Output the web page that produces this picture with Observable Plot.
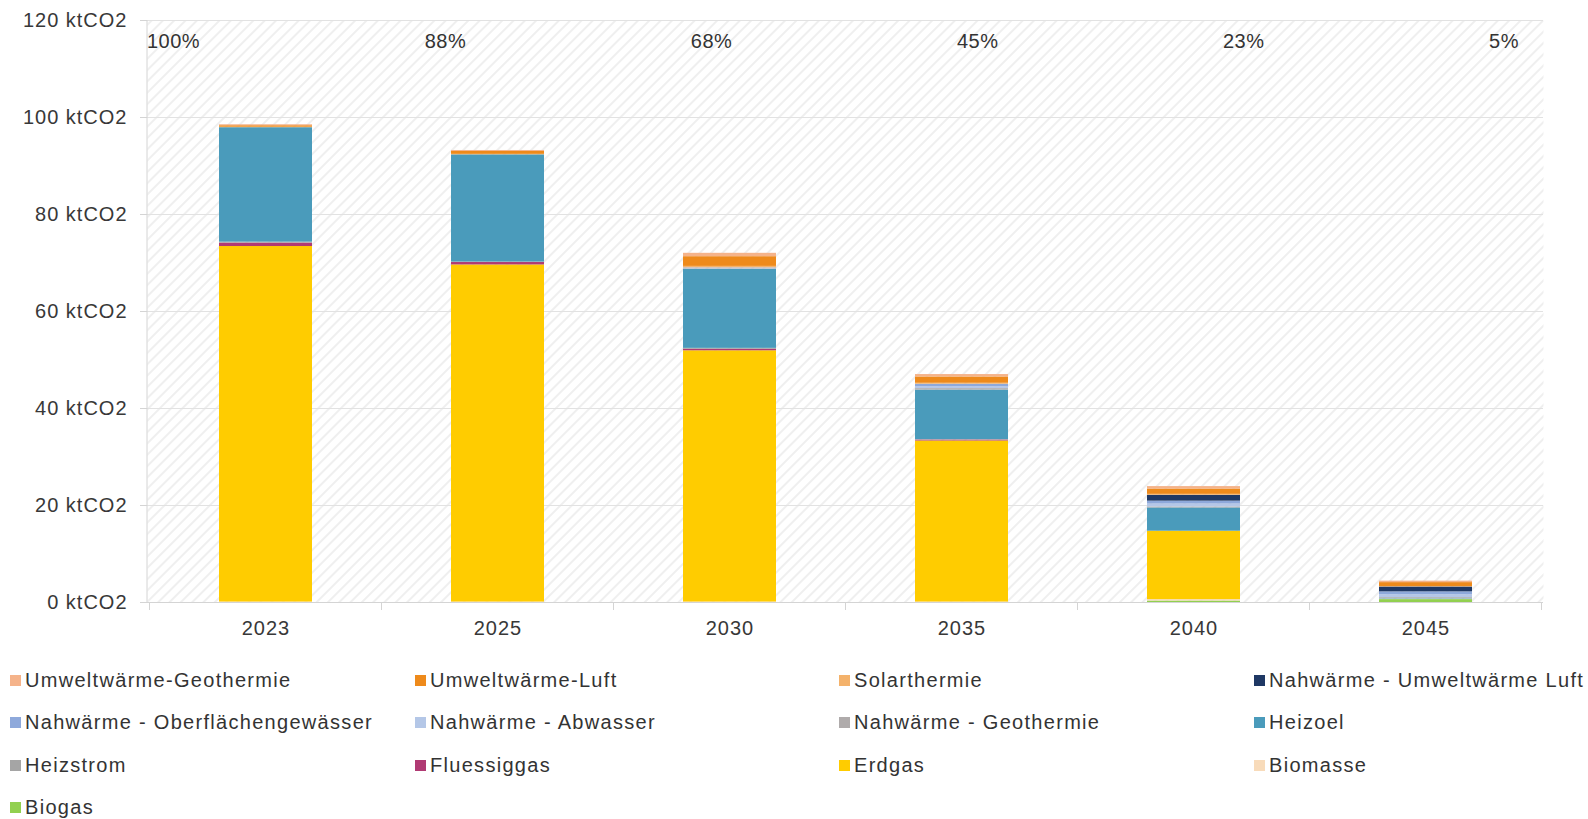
<!DOCTYPE html>
<html><head><meta charset="utf-8">
<script src="https://cdn.jsdelivr.net/npm/d3@7"></script>
<script src="https://cdn.jsdelivr.net/npm/@observablehq/plot@0.6"></script>
<style>
body{margin:0;background:#fff;font-family:"Liberation Sans",Arial,sans-serif;}
#wrap{position:relative;width:1588px;}
#pct{position:absolute;left:147px;width:1372px;top:31px;display:flex;justify-content:space-between;font-size:20px;color:#333;line-height:20px;letter-spacing:0.5px;}
#legend{position:relative;height:169px;}
.item{position:absolute;display:flex;align-items:center;height:20px;font-size:20px;color:#333;white-space:nowrap;line-height:20px;letter-spacing:1.3px;}
.sw{width:11px;height:11px;margin-right:4px;flex:none;}
</style></head><body>
<div id="wrap"><div id="chart"></div><div id="pct"></div><div id="legend"></div></div>
<script>
const years = ["2023","2025","2030","2035","2040","2045"];
const shareLabels = ["100%","88%","68%","45%","23%","5%"];
const yTicks = [0,20,40,60,80,100,120];
// stack order bottom -> top
const seriesNames = ["Biogas","Biomasse","Erdgas","Fluessiggas","Heizstrom","Heizoel","Nahwärme - Geothermie","Nahwärme - Abwasser","Nahwärme - Oberflächengewässer","Nahwärme - Umweltwärme Luft","Solarthermie","Umweltwärme-Luft","Umweltwärme-Geothermie"];
const seriesColors = ["#92D050","#F8DBBA","#FFCC00","#B03A73","#A5A5A5","#4A9BBB","#AFABAB","#B4C7E7","#8EA9DB","#1F3864","#F4B26B","#EE8A1B","#F5B38A"];
const biogas        = [0, 0, 0, 0, 0.3, 0.6];
const biomasse      = [0.1, 0.1, 0.1, 0.1, 0.3, 0.1];
const erdgas        = [73.3, 69.5, 51.8, 33.2, 14.1, 0];
const fluessiggas   = [0.7, 0.5, 0.3, 0.2, 0, 0];
const heizstrom     = [0.2, 0.1, 0.2, 0.1, 0, 0];
const heizoel       = [23.6, 22.1, 16.3, 10.2, 4.8, 0.1];
const nwGeothermie  = [0, 0, 0.1, 0.3, 0.2, 0.2];
const nwAbwasser    = [0, 0, 0.1, 0.4, 0.6, 0.6];
const nwOberflaeche = [0, 0, 0.1, 0.5, 0.6, 0.6];
const nwUmweltLuft  = [0, 0, 0, 0, 1.2, 1.0];
const solarthermie  = [0.1, 0.1, 0.3, 0.2, 0.2, 0.1];
const umweltLuft    = [0.3, 0.6, 2.0, 1.3, 1.1, 0.8];
const umweltGeo     = [0.2, 0.2, 0.7, 0.5, 0.5, 0.3];
const seriesValues = [biogas, biomasse, erdgas, fluessiggas, heizstrom, heizoel, nwGeothermie, nwAbwasser, nwOberflaeche, nwUmweltLuft, solarthermie, umweltLuft, umweltGeo];

const data = [];
seriesNames.forEach((s, i) => years.forEach((y, j) => data.push({year: y, series: s, value: seriesValues[i][j]})));

const font = '"Liberation Sans", Arial, sans-serif';
const plot = Plot.plot({
  width: 1588, height: 650,
  marginTop: 20, marginBottom: 48, marginLeft: 147, marginRight: 45,
  style: {fontFamily: font, fontSize: "20px", color: "#383838", background: "transparent", letterSpacing: "1px"},
  x: {domain: years, paddingInner: 0.6, paddingOuter: 0.3, label: null},
  y: {domain: [0, 120], label: null},
  color: {domain: seriesNames, range: seriesColors},
  marks: [
    Plot.frame({fill: "url(#hatch)", stroke: null}),
    Plot.gridY(yTicks, {stroke: "#e2e2e2", strokeOpacity: 1}),
    Plot.barY(data, {x: "year", y: "value", fill: "series", order: seriesNames}),
    Plot.ruleY([0], {stroke: "#d4d4d4"}),
    Plot.axisY(yTicks, {tickSize: 7, tickPadding: 13, stroke: "#d4d4d4", tickFormat: d => `${d} ktCO2`, fontSize: 20, label: null}),
    Plot.axisX({tickSize: 0, tickPadding: 18, fontSize: 20, label: null})
  ]
});

const svg = d3.select(plot);
const defs = svg.insert("defs", ":first-child");
const pat = defs.append("pattern").attr("id", "hatch").attr("patternUnits", "userSpaceOnUse")
  .attr("width", 8).attr("height", 8).attr("patternTransform", "rotate(45)");
pat.append("rect").attr("width", 8).attr("height", 8).attr("fill", "#ffffff");
pat.append("line").attr("x1", 1).attr("y1", 0).attr("x2", 1).attr("y2", 8).attr("stroke", "#ececec").attr("stroke-width", 1.6);

const xs = plot.scale("x"), ys = plot.scale("y");
const bw = xs.bandwidth;
const step = xs.step ?? ((xs.range[1] - xs.range[0]) / years.length);
const gap = (step - bw) / 2;
const y0 = ys.apply(0), yTop = ys.apply(120);
const bounds = years.map(y => xs.apply(y) - gap).concat([xs.apply(years[years.length - 1]) + bw + gap]);
const g = svg.append("g");
g.selectAll("line").data(bounds).join("line")
  .attr("x1", d => d).attr("x2", d => d).attr("y1", y0).attr("y2", y0 + 8).attr("stroke", "#d4d4d4");
g.append("line").attr("x1", xs.range[0]).attr("x2", xs.range[0]).attr("y1", yTop).attr("y2", y0).attr("stroke", "#d4d4d4");

document.getElementById("chart").appendChild(plot);

const pct = document.getElementById("pct");
shareLabels.forEach(t => { const s = document.createElement("span"); s.textContent = t; pct.appendChild(s); });

const legend = document.getElementById("legend");
const legendOrder = seriesNames.slice().reverse();
const colLeft = [10, 415, 839, 1254];
const rowTop = [20, 62, 105, 147];
legendOrder.forEach((name, k) => {
  const color = seriesColors[seriesNames.indexOf(name)];
  const it = document.createElement("div");
  it.className = "item";
  it.style.left = colLeft[k % 4] + "px";
  it.style.top = rowTop[Math.floor(k / 4)] + "px";
  const sw = document.createElement("span"); sw.className = "sw"; sw.style.background = color;
  const tx = document.createElement("span"); tx.textContent = name;
  it.appendChild(sw); it.appendChild(tx);
  legend.appendChild(it);
});
</script>
</body></html>
